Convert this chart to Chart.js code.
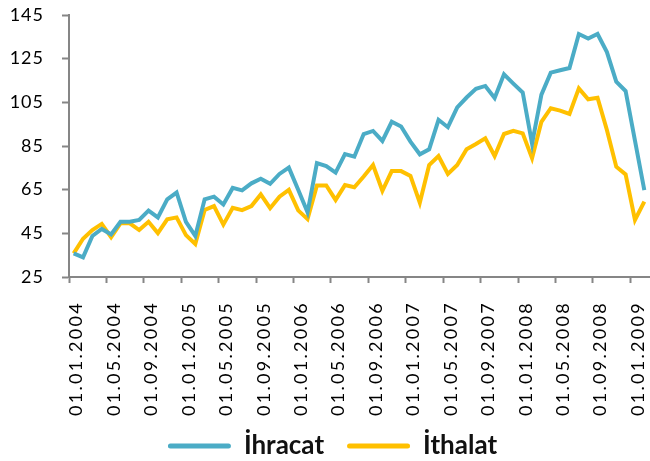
<!DOCTYPE html>
<html>
<head>
<meta charset="utf-8">
<title>İhracat / İthalat</title>
<script src="https://cdn.jsdelivr.net/npm/chart.js"></script>
<style>
  html, body { margin: 0; padding: 0; background: #ffffff; }
</style>
</head>
<body>
<canvas id="tradeChart" width="650" height="461"></canvas>
<script>
// Monthly categories, Jan 2004 - Feb 2009
const months = [
    '01.01.2004', '01.02.2004', '01.03.2004', '01.04.2004', '01.05.2004', '01.06.2004',
    '01.07.2004', '01.08.2004', '01.09.2004', '01.10.2004', '01.11.2004', '01.12.2004',
    '01.01.2005', '01.02.2005', '01.03.2005', '01.04.2005', '01.05.2005', '01.06.2005',
    '01.07.2005', '01.08.2005', '01.09.2005', '01.10.2005', '01.11.2005', '01.12.2005',
    '01.01.2006', '01.02.2006', '01.03.2006', '01.04.2006', '01.05.2006', '01.06.2006',
    '01.07.2006', '01.08.2006', '01.09.2006', '01.10.2006', '01.11.2006', '01.12.2006',
    '01.01.2007', '01.02.2007', '01.03.2007', '01.04.2007', '01.05.2007', '01.06.2007',
    '01.07.2007', '01.08.2007', '01.09.2007', '01.10.2007', '01.11.2007', '01.12.2007',
    '01.01.2008', '01.02.2008', '01.03.2008', '01.04.2008', '01.05.2008', '01.06.2008',
    '01.07.2008', '01.08.2008', '01.09.2008', '01.10.2008', '01.11.2008', '01.12.2008',
    '01.01.2009', '01.02.2009'
];

// İhracat (exports)
const exportsIndex = [
    35.8, 34.0, 43.8, 47.0, 44.5, 50.3, 50.3, 51.1, 55.4, 52.3,
    60.6, 63.7, 50.3, 43.8, 60.6, 61.8, 58.2, 65.8, 64.7, 67.9,
    70.0, 67.7, 72.2, 75.1, 65.0, 54.6, 77.2, 75.8, 72.8, 81.3,
    80.1, 90.5, 91.9, 87.3, 96.1, 93.9, 87.0, 81.2, 83.5, 97.0,
    93.6, 102.7, 107.2, 111.2, 112.5, 107.0, 117.8, 113.6, 109.5, 86.1,
    108.5, 118.6, 119.7, 120.7, 136.3, 134.2, 136.3, 128.0, 114.5, 110.2,
    87.5, 64.8
];

// İthalat (imports)
const importsIndex = [
    35.8, 42.5, 46.5, 49.3, 43.2, 49.6, 49.6, 46.5, 50.3, 45.1,
    51.4, 52.3, 44.2, 40.1, 55.7, 57.5, 49.0, 56.7, 55.6, 57.5,
    62.8, 56.5, 61.8, 64.9, 55.5, 51.5, 66.9, 66.9, 60.3, 67.1,
    66.1, 71.0, 76.3, 64.5, 73.5, 73.5, 71.3, 59.0, 76.3, 80.4,
    72.2, 76.3, 83.5, 85.9, 88.5, 80.4, 90.5, 91.9, 90.8, 79.4,
    96.1, 102.3, 101.2, 99.7, 111.4, 106.4, 107.1, 92.3, 75.5, 72.0,
    51.1, 59.5
];

const yTickValues = [25, 45, 65, 85, 105, 125, 145];

const AXIS_GRAY = '#868686';
const X_AXIS_HEIGHT = 133; // space between plot bottom and legend
const LEGEND_TRIM = 8;     // pulls legend row closer to the bottom edge

// Draw a scale's tick labels with extra tracking (canvas letterSpacing),
// and let them run past the scale box instead of being clipped
function trackLabels(scale, spacing) {
    if (scale._tracked) return;
    const drawLabels = scale.drawLabels;
    scale._computeLabelArea = () => undefined;
    scale.drawLabels = function (area) {
        this.ctx.save();
        this.ctx.letterSpacing = spacing;
        drawLabels.call(this, area);
        this.ctx.restore();
    };
    scale._tracked = true;
}

function tracked(spacing) {
    return {
        beforeUpdate: scale => { scale.ctx.letterSpacing = spacing; },
        afterUpdate: scale => {
            scale.ctx.letterSpacing = '0px';
            trackLabels(scale, spacing);
        }
    };
}

// Legend sits lower and a bit right of centre
const legendPlacement = {
    id: 'legendPlacement',
    beforeInit(chart) {
        const fit = chart.legend.fit;
        chart.legend.fit = function () {
            fit.call(this);
            this.height -= LEGEND_TRIM;
        };
    },
    afterLayout(chart) {
        chart.legend.left += 8;
        chart.legend.right += 8;
    }
};

Chart.defaults.font.family = 'Lato';
Chart.defaults.color = '#000000';

const ctx = document.getElementById('tradeChart').getContext('2d');
new Chart(ctx, {
    type: 'line',
    data: {
        labels: months,
        datasets: [
            {
                label: 'İhracat',
                data: exportsIndex,
                borderColor: '#4BACC6',
                backgroundColor: '#4BACC6',
                borderWidth: 4,
                pointRadius: 0,
                tension: 0
            },
            {
                label: 'İthalat',
                data: importsIndex,
                borderColor: '#FFC000',
                backgroundColor: '#FFC000',
                borderWidth: 4,
                pointRadius: 0,
                tension: 0
            }
        ]
    },
    options: {
        responsive: false,
        animation: false,
        layout: {
            padding: { top: 15, right: 1, bottom: 0, left: 0 }
        },
        plugins: {
            tooltip: { enabled: false },
            legend: {
                position: 'bottom',
                labels: {
                    boxWidth: 63,
                    boxHeight: 5,
                    padding: 23,
                    color: '#111111',
                    font: { size: 26, weight: 'bold' },
                    generateLabels(chart) {
                        return Chart.defaults.plugins.legend.labels.generateLabels(chart).map(item => ({
                            ...item,
                            fillStyle: item.strokeStyle,
                            lineWidth: 0,
                            borderRadius: 2.5
                        }));
                    }
                }
            }
        },
        scales: {
            x: {
                type: 'category',
                offset: true,
                ...tracked('2.3px'),
                afterFit: scale => {
                    scale.height = X_AXIS_HEIGHT;
                    scale.paddingLeft = 0;
                    scale.paddingRight = 0;
                },
                border: { display: true, color: AXIS_GRAY, width: 2 },
                grid: {
                    offset: true,
                    drawOnChartArea: false,
                    tickLength: 6,
                    tickWidth: 2,
                    // tick marks only at every fourth month boundary
                    tickColor: c => (c.type === 'tick' && c.index % 4 === 0) ? AXIS_GRAY : 'rgba(0,0,0,0)'
                },
                ticks: {
                    autoSkip: false,
                    minRotation: 90,
                    maxRotation: 90,
                    padding: 18,
                    labelOffset: 3,
                    font: { size: 18 },
                    color: '#000000',
                    callback: function (value, index) {
                        return index % 4 === 0 ? this.getLabelForValue(value) : '';
                    }
                }
            },
            y: {
                min: yTickValues[0],
                max: yTickValues[yTickValues.length - 1],
                ...tracked('1px'),
                afterFit: scale => {
                    scale.width = 69;
                    scale.paddingTop = 0;
                    scale.paddingBottom = 0;
                },
                border: { display: true, color: AXIS_GRAY, width: 2 },
                grid: {
                    drawOnChartArea: false,
                    tickLength: 7,
                    tickWidth: 2,
                    tickColor: AXIS_GRAY
                },
                ticks: {
                    stepSize: yTickValues[1] - yTickValues[0],
                    padding: 18,
                    font: { size: 18 },
                    color: '#000000'
                }
            }
        }
    },
    plugins: [legendPlacement]
});
</script>
</body>
</html>
